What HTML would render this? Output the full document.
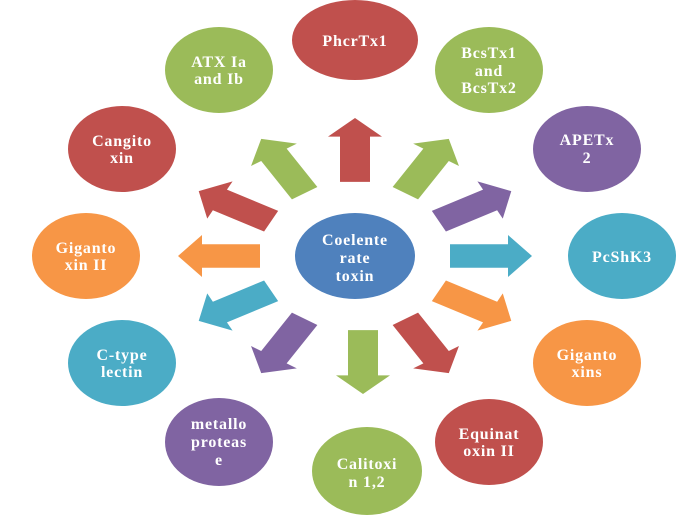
<!DOCTYPE html>
<html><head><meta charset="utf-8"><style>
html,body{margin:0;padding:0;background:#fff;}
svg text{font-family:"Liberation Serif",serif;font-weight:bold;font-size:16px;fill:#fff;text-anchor:middle;letter-spacing:0.8px;}
</style></head><body>
<svg width="697" height="523" viewBox="0 0 697 523" xmlns="http://www.w3.org/2000/svg">
<defs>
<polygon id="ar" points="95,-15 153,-15 153,-27 177,0 153,27 153,15 95,15"/>
</defs>
<g transform="translate(355,256) scale(1,0.78)">
<use href="#ar" fill="#c0504d" transform="rotate(-90)"/>
<use href="#ar" fill="#9bbb59" transform="rotate(-58)"/>
<use href="#ar" fill="#8064a2" transform="rotate(-28)"/>
<use href="#ar" fill="#4bacc6" transform="rotate(0)"/>
<use href="#ar" fill="#f79646" transform="rotate(28)"/>
<use href="#ar" fill="#c0504d" transform="rotate(58)"/>
<use href="#ar" fill="#9bbb59" transform="translate(8,0) rotate(90)"/>
<use href="#ar" fill="#8064a2" transform="rotate(122)"/>
<use href="#ar" fill="#4bacc6" transform="rotate(152)"/>
<use href="#ar" fill="#f79646" transform="rotate(180)"/>
<use href="#ar" fill="#c0504d" transform="rotate(208)"/>
<use href="#ar" fill="#9bbb59" transform="rotate(238)"/>
</g>
<g>
<ellipse cx="355" cy="256" rx="60" ry="43" fill="#4f81bd"/>
<ellipse cx="355" cy="40" rx="63" ry="40" fill="#c0504d"/>
<ellipse cx="489" cy="70" rx="54" ry="43" fill="#9bbb59"/>
<ellipse cx="587" cy="149" rx="54" ry="43" fill="#8064a2"/>
<ellipse cx="622" cy="256" rx="54" ry="43" fill="#4bacc6"/>
<ellipse cx="587" cy="363" rx="54" ry="43" fill="#f79646"/>
<ellipse cx="489" cy="442" rx="54" ry="43" fill="#c0504d"/>
<ellipse cx="367" cy="471" rx="55" ry="44" fill="#9bbb59"/>
<ellipse cx="219" cy="442" rx="54" ry="44" fill="#8064a2"/>
<ellipse cx="122" cy="363" rx="54" ry="43" fill="#4bacc6"/>
<ellipse cx="86" cy="256" rx="54" ry="43" fill="#f79646"/>
<ellipse cx="122" cy="149" rx="54" ry="43" fill="#c0504d"/>
<ellipse cx="219" cy="70" rx="54" ry="43" fill="#9bbb59"/>
</g>
<text x="355" y="245">Coelente</text><text x="355" y="263">rate</text><text x="355" y="281">toxin</text>
<text x="355" y="46">PhcrTx1</text>
<text x="489" y="58">BcsTx1</text><text x="489" y="76">and</text><text x="489" y="93">BcsTx2</text>
<text x="587" y="145">APETx</text><text x="587" y="163">2</text>
<text x="622" y="262">PcShK3</text>
<text x="587" y="360">Giganto</text><text x="587" y="377">xins</text>
<text x="489" y="439">Equinat</text><text x="489" y="456">oxin II</text>
<text x="367" y="469">Calitoxi</text><text x="367" y="487">n 1,2</text>
<text x="219" y="429">metallo</text><text x="219" y="447">proteas</text><text x="219" y="465">e</text>
<text x="122" y="360">C-type</text><text x="122" y="377">lectin</text>
<text x="86" y="253">Giganto</text><text x="86" y="270">xin II</text>
<text x="122" y="146">Cangito</text><text x="122" y="163">xin</text>
<text x="219" y="67">ATX Ia</text><text x="219" y="84">and Ib</text>
</svg>
</body></html>
